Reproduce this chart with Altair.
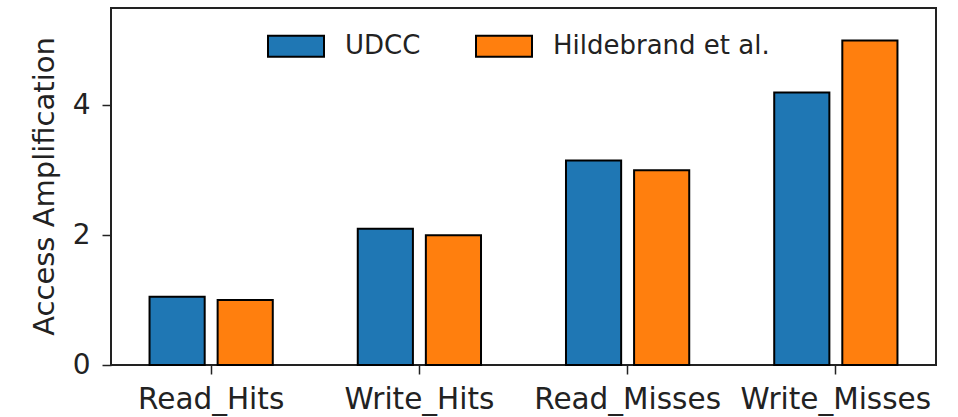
import altair as alt
import pandas as pd

# Access amplification per operation type
categories = ["Read_Hits", "Write_Hits", "Read_Misses", "Write_Misses"]
series = ["UDCC", "Hildebrand et al."]
udcc = [1.05, 2.1, 3.15, 4.2]
hildebrand = [1.0, 2.0, 3.0, 5.0]
colors = ["#1f77b4", "#ff7f0e"]

rows = []
for cat, u, h in zip(categories, udcc, hildebrand):
    rows.append({"op": cat, "method": series[0], "value": u})
    rows.append({"op": cat, "method": series[1], "value": h})
df = pd.DataFrame(rows)

FONT = "DejaVu Sans"
INK = "#222222"

chart = (
    alt.Chart(df)
    .mark_bar(stroke="black", strokeWidth=2)
    .encode(
        x=alt.X(
            "op:N",
            sort=categories,
            scale=alt.Scale(paddingInner=0.346, paddingOuter=0.154),
            axis=alt.Axis(
                title=None,
                labelAngle=0,
                labelFontSize=29.5,
                labelColor=INK,
                labelPadding=11,
                labelLimit=400,
                tickSize=9,
                tickWidth=1.5,
                tickColor=INK,
                bandPosition=0.5,
                domain=False,
                labelFont=FONT,
            ),
        ),
        xOffset=alt.XOffset(
            "method:N",
            sort=series,
            scale=alt.Scale(paddingInner=0.19, paddingOuter=0.095),
        ),
        y=alt.Y(
            "value:Q",
            scale=alt.Scale(domain=[0, 5.5], nice=False),
            axis=alt.Axis(
                title="Access Amplification",
                values=[0, 2, 4],
                grid=False,
                domain=False,
                labelFontSize=28,
                labelColor=INK,
                labelPadding=12,
                labelFont=FONT,
                tickSize=9,
                tickWidth=1.5,
                tickColor=INK,
                titleFontSize=29,
                titleFontWeight="normal",
                titleColor=INK,
                titleFont=FONT,
                titleAngle=270,
                titleX=-58,
                titleY=178,
                titleAlign="center",
                titleBaseline="alphabetic",
                titleLimit=500,
            ),
        ),
        color=alt.Color(
            "method:N",
            sort=series,
            scale=alt.Scale(domain=series, range=colors),
            legend=alt.Legend(
                title=None,
                orient="none",
                direction="horizontal",
                legendX=156,
                legendY=9,
                symbolType="M-1,-0.375L1,-0.375L1,0.375L-1,0.375Z",
                symbolSize=3136,
                symbolStrokeColor="black",
                symbolStrokeWidth=2,
                symbolOpacity=1,
                labelFontSize=26,
                labelFont=FONT,
                labelColor=INK,
                labelOffset=20,
                labelLimit=400,
                columnPadding=51,
                padding=0,
            ),
        ),
    )
    .properties(
        width=825,
        height=357,
        autosize=alt.AutoSizeParams(type="none"),
        padding={"left": 111, "top": 8, "right": 22, "bottom": 52},
    )
    .configure(font=FONT, background="white")
    .configure_view(stroke=INK, strokeWidth=2)
)

chart.save("out.html", embed_options={"renderer": "svg", "actions": False})
